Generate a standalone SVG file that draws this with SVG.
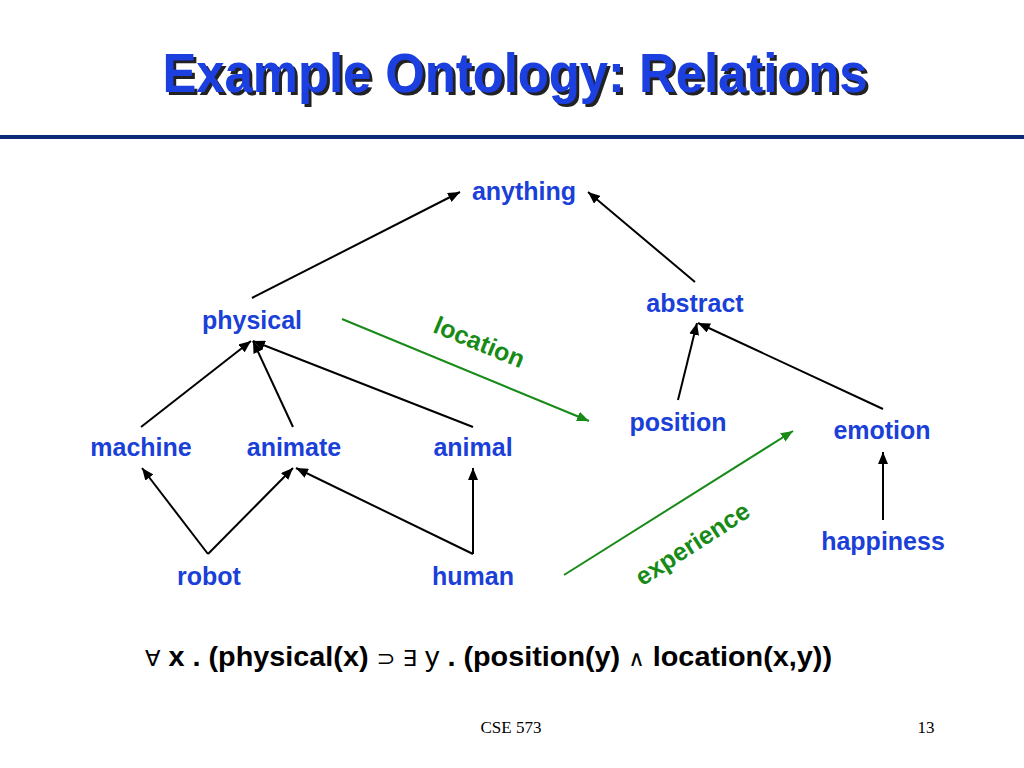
<svg xmlns="http://www.w3.org/2000/svg" width="1024" height="768" viewBox="0 0 1024 768">
<style>
.n{font-family:"Liberation Sans",Arial,sans-serif;font-weight:bold;font-size:25px;fill:#1a40d8;text-anchor:middle}
.e{stroke:#000;stroke-width:2;fill:none;marker-end:url(#ah)}
.g{stroke:#178a17;stroke-width:2;fill:none;marker-end:url(#gh)}
.gl{font-family:"Liberation Sans",Arial,sans-serif;font-weight:bold;font-size:25px;fill:#178a17;text-anchor:middle}
</style>
<defs>
<marker id="ah" markerUnits="userSpaceOnUse" markerWidth="14" markerHeight="10" refX="12" refY="5" orient="auto">
<path d="M0,0 L12,5 L0,10 Z" fill="#000"/>
</marker>
<marker id="gh" markerUnits="userSpaceOnUse" markerWidth="14" markerHeight="10" refX="12" refY="5" orient="auto">
<path d="M0,0 L12,5 L0,10 Z" fill="#178a17"/>
</marker>
<filter id="sh" x="-5%" y="-20%" width="110%" height="140%">
<feDropShadow dx="3" dy="3" stdDeviation="0.4" flood-color="#222" flood-opacity="1"/>
</filter>
</defs>
<rect width="1024" height="768" fill="#fff"/>
<g id="title">
<text x="515" y="92" font-family="'Liberation Sans',Arial,sans-serif" font-weight="bold" font-size="56" fill="#1a40e0" text-anchor="middle" textLength="705" lengthAdjust="spacingAndGlyphs" filter="url(#sh)">Example Ontology: Relations</text>
<rect x="0" y="135" width="1024" height="4" fill="#0b2a78"/>
</g>
<g id="connectors">
<line class="e" x1="252" y1="298" x2="460" y2="192"/>
<line class="e" x1="695" y1="282" x2="588" y2="192"/>
<line class="e" x1="141" y1="427" x2="251" y2="341"/>
<line class="e" x1="293" y1="427" x2="253" y2="341"/>
<line class="e" x1="473" y1="427" x2="253" y2="341"/>
<line class="e" x1="208" y1="554" x2="142" y2="468"/>
<line class="e" x1="208" y1="554" x2="293" y2="468"/>
<line class="e" x1="473" y1="554" x2="296" y2="468"/>
<line class="e" x1="473" y1="554" x2="473" y2="468"/>
<line class="e" x1="678" y1="400" x2="697" y2="323"/>
<line class="e" x1="883" y1="409" x2="698" y2="323"/>
<line class="e" x1="883" y1="520" x2="883" y2="452"/>
<line class="g" x1="342" y1="319" x2="589" y2="421"/>
<line class="g" x1="564" y1="575" x2="793" y2="431"/>
<text class="gl" transform="translate(476,350) rotate(22.5)">location</text>
<text class="gl" transform="translate(697,551) rotate(-33)">experience</text>
</g>
<g id="anything"><text class="n" x="524" y="200">anything</text></g>
<g id="physical"><text class="n" x="252" y="329">physical</text></g>
<g id="abstract"><text class="n" x="695" y="312">abstract</text></g>
<g id="machine"><text class="n" x="141" y="456">machine</text></g>
<g id="animate"><text class="n" x="294" y="456">animate</text></g>
<g id="animal"><text class="n" x="473" y="456">animal</text></g>
<g id="position"><text class="n" x="678" y="431">position</text></g>
<g id="emotion"><text class="n" x="882" y="439">emotion</text></g>
<g id="robot"><text class="n" x="209" y="585">robot</text></g>
<g id="human"><text class="n" x="473" y="585">human</text></g>
<g id="happiness"><text class="n" x="883" y="550">happiness</text></g>
<g id="formula">
<text x="145" y="666" font-family="'Liberation Sans',Arial,sans-serif" font-weight="bold" font-size="28" fill="#000" textLength="687" lengthAdjust="spacingAndGlyphs"><tspan font-weight="normal" font-family="'DejaVu Sans',sans-serif" font-size="22">∀</tspan> x . (physical(x) <tspan font-weight="normal" font-family="'DejaVu Sans',sans-serif" font-size="22">⊃ ∃</tspan><tspan font-weight="normal"> y</tspan> . (position(y) <tspan font-weight="normal" font-family="'DejaVu Sans',sans-serif" font-size="22">∧</tspan> location(x,y))</text>
</g>
<g id="footer">
<text x="511" y="733" font-family="'Liberation Serif','Times New Roman',serif" font-size="17" fill="#000" text-anchor="middle">CSE 573</text>
<text x="926" y="733" font-family="'Liberation Serif','Times New Roman',serif" font-size="17" fill="#000" text-anchor="middle">13</text>
</g>
</svg>
